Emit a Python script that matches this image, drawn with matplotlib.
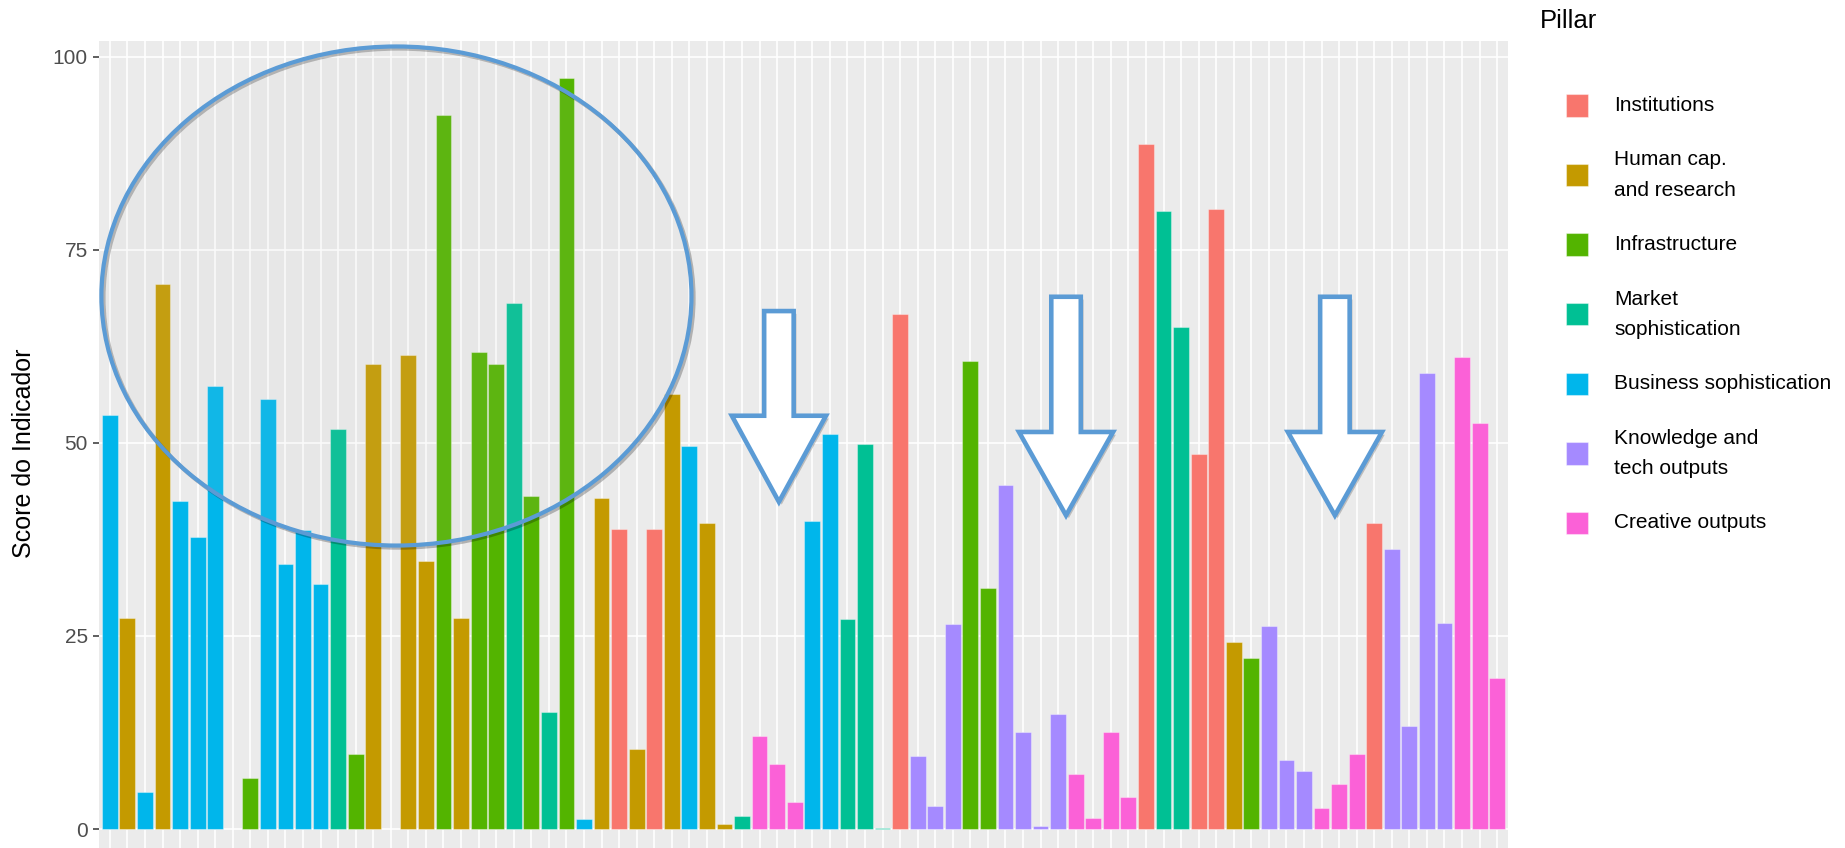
import numpy as np
import matplotlib
matplotlib.use('Agg')
import matplotlib.pyplot as plt
from matplotlib.patches import Ellipse, Polygon, Rectangle
import matplotlib.patheffects as pe

plt.rcParams['font.family'] = ['Liberation Sans', 'DejaVu Sans']

pillar_names = ['Institutions', 'Human cap.\nand research', 'Infrastructure', 'Market\nsophistication',
                'Business sophistication', 'Knowledge and\ntech outputs', 'Creative outputs']
pillar_codes = ['I', 'H', 'G', 'M', 'B', 'K', 'C']
pillar_colors = ['#F8766D', '#C49A00', '#53B400', '#00C094', '#00B6EB', '#A58AFF', '#FB61D7']

indicator_pillar = list('BHBHBBBBGBBBBMGHHHHGHGGMGMGBHIHIHBHHMCCCBBMMMIKKKGGKKKKCCCCIMMIIHGKKKCCCIKKKKCCC')
scores = [53.6, 27.3, 4.8, 70.6, 42.4, 37.8, 57.4, np.nan, 6.6, 55.7,
          34.3, 38.7, 31.7, 51.8, 9.7, 60.2, np.nan, 61.4, 34.7, 92.4,
          27.3, 61.8, 60.2, 68.1, 43.1, 15.2, 97.2, 1.3, 42.9, 38.9,
          10.4, 38.9, 56.3, 49.6, 39.6, 0.7, 1.75, 12.1, 8.4, 3.5,
          39.9, 51.2, 27.2, 49.9, 0.1, 66.7, 9.5, 3.0, 26.6, 60.6,
          31.2, 44.6, 12.6, 0.4, 14.9, 7.1, 1.4, 12.6, 4.1, 88.7,
          80.0, 65.0, 48.5, 80.2, 24.2, 22.1, 26.3, 9.0, 7.5, 2.7,
          5.8, 9.7, 39.6, 36.2, 13.4, 59.0, 26.7, 61.1, 52.6, 19.5]
y_ticks = [0, 25, 50, 75, 100]

W, H = 1845, 848
fig = plt.figure(figsize=(W / 100, H / 100), dpi=100)
ax = fig.add_axes([99.3 / W, (H - 866.6) / H, 1408.4 / W, 826 / H])
ax.set_facecolor('#EBEBEB')

color_of = dict(zip(pillar_codes, pillar_colors))
x = np.arange(len(scores))
vals = np.array(scores, dtype=float)
ok = ~np.isnan(vals)
ax.bar(x[ok], vals[ok], width=0.9, color=[color_of[p] for p, k in zip(indicator_pillar, ok) if k],
       edgecolor=(1, 1, 1, 0.35), linewidth=0.8, zorder=2)

ymax = np.nanmax(vals)
ax.set_xlim(-0.6, len(scores) - 0.4)
ax.set_ylim(-0.05 * ymax, ymax * 1.05)
ax.set_xticks(x)
ax.set_xticklabels([])
ax.set_yticks(y_ticks)
ax.set_yticklabels([str(t) for t in y_ticks])
ax.tick_params(axis='x', length=0)
ax.tick_params(axis='y', labelsize=15, labelcolor='#4D4D4D', color='#333333', length=4.3, width=1.1, pad=4)
ax.grid(True, color='white', linewidth=1.2, zorder=0)
ax.set_axisbelow(True)
for s in ax.spines.values():
    s.set_visible(False)

fig.text(24 / W, 1 - 453.6 / H, 'Score do Indicador', rotation=90, ha='center', va='center', fontsize=18)

# highlight annotations
ell = Ellipse((16.32, 69.0), 33.6, 64.6, facecolor=(0.78, 0.78, 0.78, 0.09), edgecolor='#5B9BD5',
              linewidth=3.0, zorder=5)
ell.set_path_effects([pe.SimpleLineShadow(offset=(1.5, -1.5), shadow_color='k', alpha=0.25), pe.Normal()])
ax.add_patch(ell)

arrows = [(38.1, 67.05, 53.5, 42.35), (54.45, 68.9, 51.4, 40.6), (69.76, 68.9, 51.4, 40.6)]
for xc, top, base, tip in arrows:
    sw, hw = 0.84, 2.68
    pts = [(xc - sw, top), (xc + sw, top), (xc + sw, base), (xc + hw, base),
           (xc, tip), (xc - hw, base), (xc - sw, base)]
    arr = Polygon(pts, closed=True, facecolor='white', edgecolor='#5B9BD5', linewidth=3.3,
                  joinstyle='miter', zorder=6)
    arr.set_path_effects([pe.SimplePatchShadow(offset=(2, -2), shadow_rgbFace='k', alpha=0.2), pe.Normal()])
    ax.add_patch(arr)

# legend
fig.text(1540 / W, 1 - 21 / H, 'Pillar', fontsize=18.5, ha='left', va='center')
for i, (name, col) in enumerate(zip(pillar_names, pillar_colors)):
    yc = 105.4 + 69.6 * i
    fig.add_artist(Rectangle((1565.7 / W, 1 - (yc + 11.25) / H), 22.5 / W, 22.5 / H,
                             transform=fig.transFigure, facecolor=col, edgecolor=(1, 1, 1, 0.4), linewidth=0.8))
    fig.text(1614.5 / W, 1 - yc / H, name, fontsize=15, ha='left', va='center', linespacing=1.75)

fig.savefig('out.png', dpi=100)
